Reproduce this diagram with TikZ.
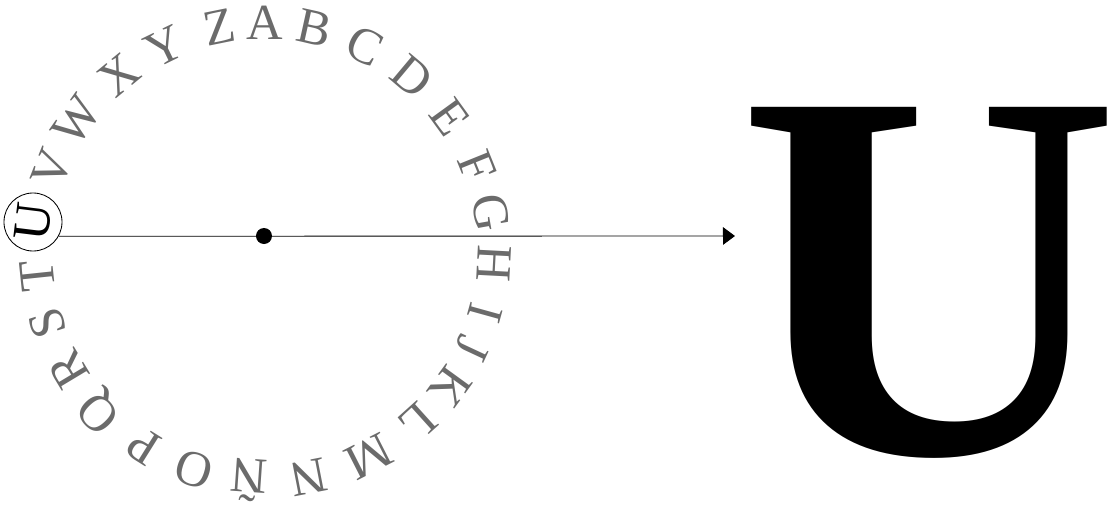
\documentclass[tikz,border=0pt]{standalone}
\usepackage{fontspec}
\setmainfont{Liberation Serif}
\usetikzlibrary{arrows.meta,positioning}
\definecolor{gris}{gray}{0.42}
\tikzset{
  letra/.style={text=gris,inner sep=0pt,font=\fontsize{36}{36}\selectfont},
  clave/.style={draw,circle,line width=0.6pt,inner sep=0pt,minimum size=14.5mm,
                font=\fontsize{37}{37}\selectfont},
  flecha/.style={-{Triangle[length=3mm,width=4.4mm]},line width=0.6pt},
  punto/.style={circle,fill,inner sep=0pt,minimum size=4mm},
  grande/.style={inner sep=0pt,font=\fontsize{376}{376}\selectfont\bfseries},
}

\begin{document}
\begin{tikzpicture}[x=0.025cm,y=0.025cm]
  \useasboundingbox (-265,-262) rectangle (842,252);
  % rueda de letras
  \foreach \l/\a [count=\i] in {A/90,B/77.5,C/64,D/50,E/36,F/22,G/10,H/-3,I/-15.5,J/-25,
      K/-36,L/-48,M/-63,N/-79,Ñ/-94,O/-108,P/-122,Q/-136,R/-149,S/-162,T/-174,
      V/158.5,W/145,X/129.5,Y/116,Z/101.5}
    \node[letra,rotate=\a-90] (l\i) at (\a:229) {\l};
  \node[clave] (u) at (-232,30) {\rotatebox{83}{U}};
  \node[punto] (centro) at (-1,16) {};
  \coordinate (fin) at (470,16);
  \draw[flecha] (u.-29) -- (fin);
  \node[grande] (salida) at (664,-31) {U};
\end{tikzpicture}
\end{document}
